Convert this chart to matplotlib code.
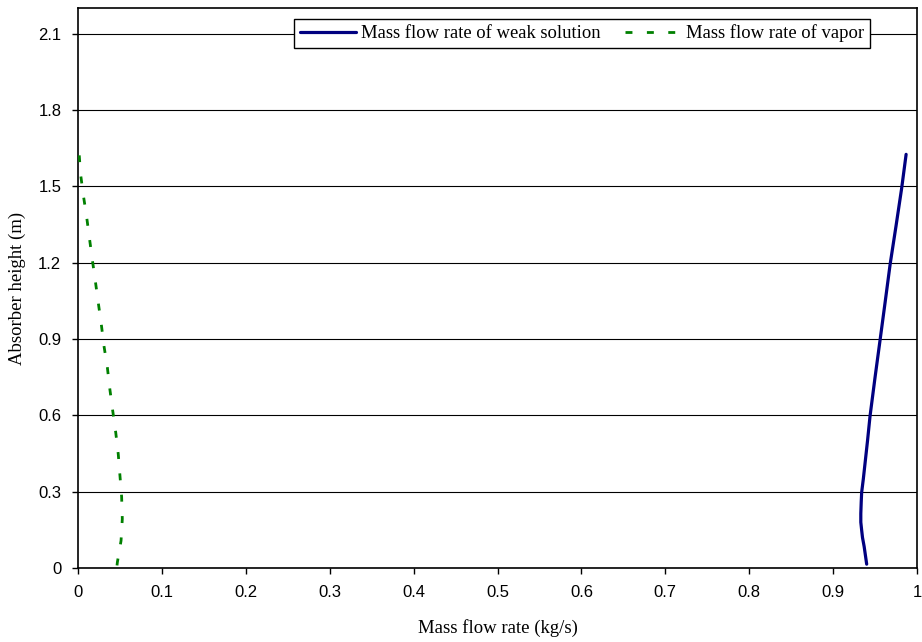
"""
Absorber height vs mass flow rate of weak solution and vapor.
Values read off the reference chart.
"""
import matplotlib
matplotlib.use("Agg")
import matplotlib.pyplot as plt

# weak solution (navy, solid)
weak_flow = [0.940, 0.937, 0.935, 0.934, 0.933, 0.933, 0.9335, 0.934, 0.936, 0.938,
             0.941, 0.944, 0.950, 0.956, 0.962, 0.968, 0.975, 0.9817, 0.987]
weak_height = [0.015, 0.084, 0.12, 0.149, 0.18, 0.214, 0.26, 0.297, 0.35, 0.41,
               0.50, 0.597, 0.75, 0.897, 1.045, 1.195, 1.345, 1.493, 1.626]

# vapor (green, dashed)
vapor_flow = [0.0465, 0.0469, 0.0513, 0.0528, 0.052, 0.050, 0.048, 0.045, 0.0413, 0.038,
              0.035, 0.031, 0.0278, 0.0242, 0.0207, 0.017, 0.0135, 0.0103, 0.0063, 0.003, 0.0015]
vapor_height = [0.01, 0.022, 0.107, 0.193, 0.28, 0.363, 0.447, 0.532, 0.62, 0.702,
                0.788, 0.872, 0.957, 1.042, 1.127, 1.213, 1.30, 1.38, 1.467, 1.55, 1.622]

x_ticks = [0, 0.1, 0.2, 0.3, 0.4, 0.5, 0.6, 0.7, 0.8, 0.9, 1]
x_labels = ["0", "0.1", "0.2", "0.3", "0.4", "0.5", "0.6", "0.7", "0.8", "0.9", "1"]
y_ticks = [0, 0.3, 0.6, 0.9, 1.2, 1.5, 1.8, 2.1]
y_labels = ["0", "0.3", "0.6", "0.9", "1.2", "1.5", "1.8", "2.1"]

fig = plt.figure(figsize=(9.22, 6.42), dpi=100)
ax = fig.add_axes([0.0846, 0.1153, 0.9100, 0.8717])

ax.plot(weak_flow, weak_height, color="#000080", lw=2.3,
        label="Mass flow rate of weak solution", solid_capstyle="round", zorder=3)
ax.plot(vapor_flow, vapor_height, color="#008000", lw=2.0, dashes=(2.5, 5.2),
        label="Mass flow rate of vapor", zorder=3)

ax.set_xlim(0, 1)
ax.set_ylim(0, 2.2)
ax.set_xticks(x_ticks)
ax.set_xticklabels(x_labels, family="Liberation Sans", fontsize=12)
ax.set_yticks(y_ticks)
ax.set_yticklabels(y_labels, family="Liberation Sans", fontsize=12)
ax.tick_params(direction="out", length=4, width=1, pad=8, color="black")

ax.grid(axis="y", color="black", lw=0.8)
ax.set_axisbelow(True)
for s in ax.spines.values():
    s.set_linewidth(1.2)
    s.set_color("black")

ax.set_xlabel("Mass flow rate (kg/s)", family="Liberation Serif", fontsize=13.5, labelpad=14)
ax.set_ylabel("Absorber height (m)", family="Liberation Serif", fontsize=13.5, labelpad=9)

leg = ax.legend(loc="upper right", bbox_to_anchor=(0.944, 0.981), borderaxespad=0,
                ncol=2, fancybox=False, framealpha=1, edgecolor="black",
                prop={"family": "Liberation Serif", "size": 13.4},
                handlelength=3.0, handletextpad=0.3, columnspacing=1.3,
                borderpad=0.3)
leg.get_frame().set_linewidth(1.0)

plt.savefig("out.png", dpi=100)
